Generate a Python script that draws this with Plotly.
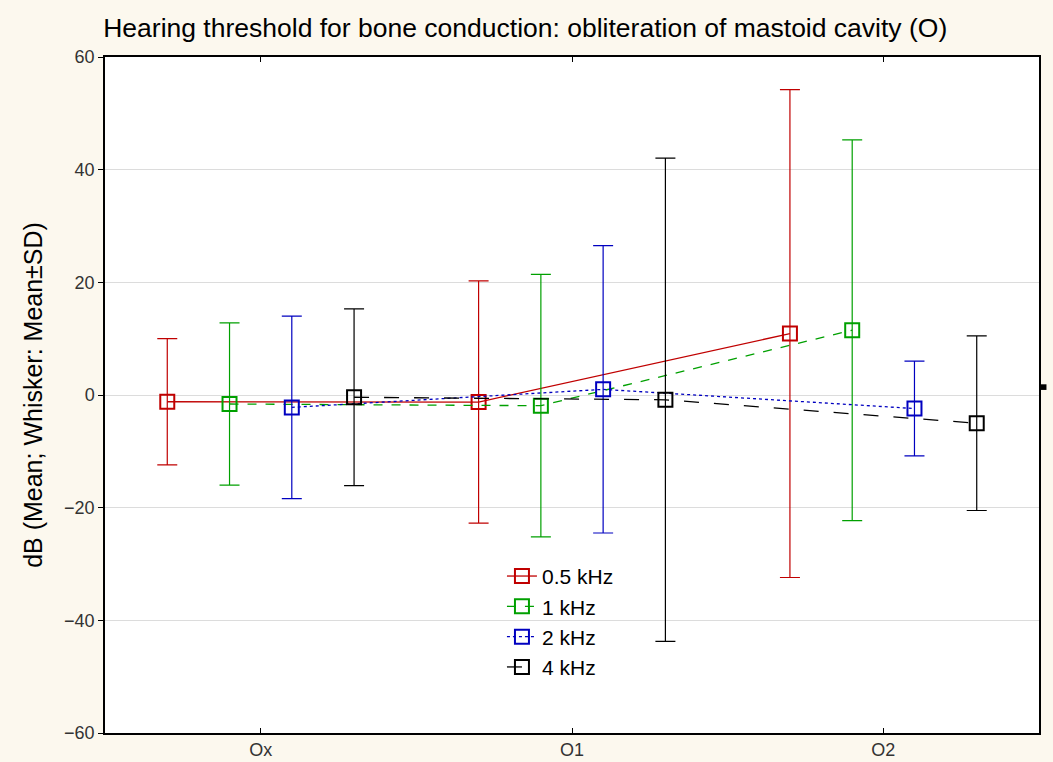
import plotly.graph_objects as go

categories = ["Ox", "O1", "O2"]
series_names = ["0.5 kHz", "1 kHz", "2 kHz", "4 kHz"]
means_05 = [-1.2, -1.25, 10.9]
sd_05 = [11.2, 21.5, 43.3]
means_1 = [-1.6, -1.9, 11.5]
sd_1 = [14.4, 23.3, 33.8]
means_2 = [-2.2, 1.0, -2.4]
sd_2 = [16.2, 25.5, 8.4]
means_4 = [-0.4, -0.85, -5.0]
sd_4 = [15.7, 42.9, 15.5]

means = [means_05, means_1, means_2, means_4]
sds = [sd_05, sd_1, sd_2, sd_4]
offsets = [-0.3, -0.1, 0.1, 0.3]
colors = ["#C00000", "#00A000", "#0000C0", "#000000"]
dashes = ["solid", "dash", "dot", "longdash"]

fig = go.Figure()
for name, m, s, off, c, d in zip(series_names, means, sds, offsets, colors, dashes):
    xs = [i + off for i in range(len(categories))]
    fig.add_trace(go.Scatter(
        x=xs, y=m, name=name, mode="lines+markers",
        line=dict(color=c, width=1.3, dash=d),
        marker=dict(symbol="square-open", size=14, color=c, line=dict(width=2, color=c)),
        error_y=dict(type="data", array=s, visible=True, color=c, thickness=1.2, width=10),
    ))

fig.add_shape(type="rect", xref="paper", yref="y", x0=1.0, x1=1.008, y0=0.9, y1=1.9,
              fillcolor="black", line=dict(width=0))

fig.update_layout(
    width=1053, height=762,
    paper_bgcolor="#FCF8EE", plot_bgcolor="white",
    margin=dict(l=105, r=14, t=57, b=29, autoexpand=False),
    title=dict(text="Hearing threshold for bone conduction: obliteration of mastoid cavity (O)",
               x=0.098, xanchor="left", y=0.963, yanchor="middle",
               font=dict(family="Liberation Sans, Arial", size=26.5, color="black")),
    font=dict(family="Liberation Sans, Arial", color="#222"),
    showlegend=True,
    legend=dict(x=0.425, y=0.262, xanchor="left", yanchor="top", bgcolor="rgba(0,0,0,0)",
                font=dict(family="Liberation Sans, Arial", size=21, color="black"),
                tracegroupgap=0, itemwidth=30),
)
fig.update_xaxes(range=[-0.5, 2.5], tickvals=[0, 1, 2], ticktext=categories, automargin=False,
                 showgrid=False, zeroline=False, showline=True, linecolor="black", linewidth=1.5,
                 mirror="ticks", ticks="inside", ticklen=5, tickcolor="black",
                 tickfont=dict(family="Liberation Sans, Arial", size=18, color="#333"))
fig.update_yaxes(range=[-60, 60], tickvals=[-60, -40, -20, 0, 20, 40, 60], automargin=False,
                 showgrid=True, gridcolor="#DCDCDC", gridwidth=1, zeroline=False,
                 showline=True, linecolor="black", linewidth=1.5, mirror=True,
                 ticks="outside", ticklen=5, tickcolor="black",
                 tickfont=dict(family="Liberation Sans, Arial", size=18, color="#333"),
                 title=dict(text="dB (Mean; Whisker: Mean±SD)", standoff=14,
                            font=dict(family="Liberation Sans, Arial", size=25, color="black")))

fig.write_html("out.html", config={"displayModeBar": False},
               post_script="document.body.style.margin='0';document.body.style.background='#FCF8EE';")
